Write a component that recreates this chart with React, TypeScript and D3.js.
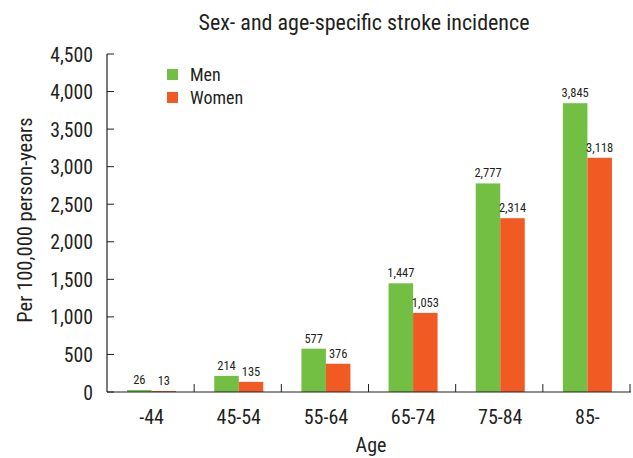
import React from "react";
import * as d3 from "d3";

const categories = ["-44", "45-54", "55-64", "65-74", "75-84", "85-"];
const men = [26, 214, 577, 1447, 2777, 3845];
const women = [13, 135, 376, 1053, 2314, 3118];
const seriesNames = ["Men", "Women"];
const yTicks = [0, 500, 1000, 1500, 2000, 2500, 3000, 3500, 4000, 4500];

const W = 633, H = 458;
const left = 107, right = 630, top = 54, bottom = 392;
const colors = ["#72BF44", "#F15A22"];
const font = "'Liberation Sans Narrow', 'Roboto Condensed', 'Arial Narrow', Roboto, sans-serif";
const fmt = d3.format(",");
const ink = "#231f20";

export default function App() {
  const x = d3.scaleBand<string>().domain(categories).range([left, right]);
  const y = d3.scaleLinear().domain([0, 4500]).range([bottom, top]);
  const inner = d3.scaleBand<string>().domain(seriesNames).range([0, 49]);
  const series = [men, women];
  return (
    <svg width={W} height={H} style={{ position: "absolute", left: 0, top: 0, background: "#fff" }} fontFamily={font}>
      <text x={364} y={30} textAnchor="middle" fontSize={22} fill={ink}>Sex- and age-specific stroke incidence</text>
      {/* y axis */}
      <line x1={left} x2={left} y1={top} y2={bottom} stroke={ink} strokeWidth={1.2} />
      {yTicks.map(t => (
        <g key={t}>
          <line x1={left} x2={left + 7} y1={y(t)} y2={y(t)} stroke={ink} strokeWidth={1} />
          <text transform={`translate(93,${y(t) + 7.5}) scale(0.94,1)`} textAnchor="end" fontSize={21} fill={ink}>{fmt(t)}</text>
        </g>
      ))}
      <text transform={`translate(32,220) rotate(-90)`} textAnchor="middle" fontSize={20.5} fill={ink}>Per 100,000 person-years</text>
      {/* bars */}
      {categories.map((c, i) => (
        <g key={c}>
          {series.map((s, j) => {
            const bx = (x(c) as number) + x.bandwidth() / 2 - 23.5 + (inner(seriesNames[j]) as number);
            const bw = inner.bandwidth();
            return (
              <g key={j}>
                <rect x={bx} y={y(s[i])} width={bw} height={bottom - y(s[i])} fill={colors[j]} />
                <text x={bx + bw / 2} y={y(s[i]) - 6} textAnchor="middle" fontSize={12.5} fill={ink}>{fmt(s[i])}</text>
              </g>
            );
          })}
        </g>
      ))}
      {/* x axis */}
      <line x1={left} x2={right + 1} y1={bottom} y2={bottom} stroke={ink} strokeWidth={1.2} />
      {categories.map((c, i) => (
        <g key={c}>
          <line x1={(x(c) as number) + x.bandwidth()} x2={(x(c) as number) + x.bandwidth()} y1={bottom} y2={bottom - 8} stroke={ink} strokeWidth={1} />
          <text x={(x(c) as number) + x.bandwidth() / 2 + 1} y={424} textAnchor="middle" fontSize={20} fill={ink}>{c}</text>
        </g>
      ))}
      <text x={371} y={452} textAnchor="middle" fontSize={20} fill={ink}>Age</text>
      {/* legend */}
      {seriesNames.map((n, j) => (
        <g key={n}>
          <rect x={167} y={69 + j * 23} width={11} height={11} fill={colors[j]} />
          <text x={190} y={81 + j * 23} fontSize={18} fill={ink}>{n}</text>
        </g>
      ))}
    </svg>
  );
}
